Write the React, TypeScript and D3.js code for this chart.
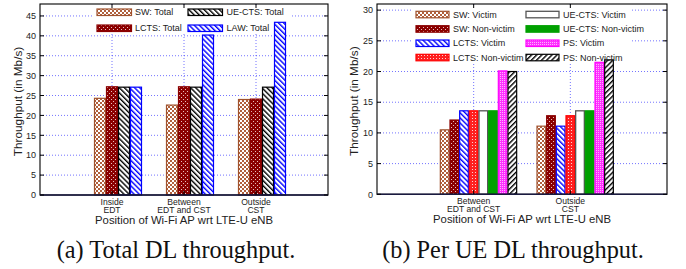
import React from "react";
import * as d3 from "d3";

// ---------- data ----------
const leftCategories = [["Inside", "EDT"], ["Between", "EDT and CST"], ["Outside", "CST"]];
const leftSeriesNames = ["SW: Total", "LCTS: Total", "UE-CTS: Total", "LAW: Total"];
const swTotal = [24.3, 22.6, 24.0];
const lctsTotal = [27.2, 27.2, 24.1];
const uectsTotal = [27.1, 27.1, 27.1];
const lawTotal = [27.1, 40.2, 43.4];
const leftYTicks = [0, 5, 10, 15, 20, 25, 30, 35, 40, 45];

const rightCategories = [["Between", "EDT and CST"], ["Outside", "CST"]];
const rightSeriesNames = [
  "SW: Victim", "SW: Non-victim", "LCTS: Victim", "LCTS: Non-victim",
  "UE-CTS: Victim", "UE-CTS: Non-victim", "PS: Victim", "PS: Non-victim",
];
const swVictim = [10.5, 11.1];
const swNonVictim = [12.1, 12.8];
const lctsVictim = [13.6, 11.1];
const lctsNonVictim = [13.6, 12.8];
const uectsVictim = [13.6, 13.6];
const uectsNonVictim = [13.6, 13.6];
const psVictim = [20.1, 21.5];
const psNonVictim = [20.0, 21.9];
const rightYTicks = [0, 5, 10, 15, 20, 25, 30];

const xTitle = "Position of Wi-Fi AP wrt LTE-U eNB";
const yTitle = "Throughput (in Mb/s)";

// ---------- styles ----------
type Style = { fill: string; stroke: string; sw?: number };
const leftStyles: Style[] = [
  { fill: "url(#pBrown)", stroke: "#a0522d" },
  { fill: "url(#pDarkRed)", stroke: "#8b0000" },
  { fill: "url(#pBlackBack)", stroke: "#000" },
  { fill: "url(#pBlueBack)", stroke: "#0000ff" },
];
const rightStyles: Style[] = [
  { fill: "url(#pBrown)", stroke: "#a0522d" },
  { fill: "url(#pDarkRed)", stroke: "#8b0000" },
  { fill: "url(#pBlueBack)", stroke: "#0000ff" },
  { fill: "url(#pRed)", stroke: "#ff0000" },
  { fill: "#fff", stroke: "#555", sw: 1.3 },
  { fill: "#00a000", stroke: "#00a000" },
  { fill: "url(#pMagenta)", stroke: "#ff00ff" },
  { fill: "url(#pBlackFwd)", stroke: "#000" },
];

const FONT = "'Liberation Sans', Arial, Helvetica, sans-serif";

type ChartProps = {
  left: number; right: number; top: number; bottom: number;
  yMax: number; yTicks: number[];
  xDomain: [number, number];
  categories: string[][];
  series: number[][];
  names: string[];
  styles: Style[];
  barW: number;
  legendCols: number[]; legendTextX: number[]; legendRows: number[]; legendBox: [number, number, number, number];
  swatchW: number;
  yTitleX: number;
  caption: string; captionX: number;
};

function Chart(p: ChartProps) {
  const x = d3.scaleLinear().domain(p.xDomain).range([p.left, p.right]);
  const y = d3.scaleLinear().domain([0, p.yMax]).range([p.bottom, p.top]);
  const n = p.series.length;
  const ticksX = p.categories.map((_, i) => i);
  const rowsPerCol = p.legendRows.length;
  const gridStyle = { stroke: "#3030ff", strokeWidth: 0.9, strokeDasharray: "1,2", opacity: 0.75 };
  return (
    <g>
      {/* grid */}
      {p.yTicks.filter((t) => t > 0).map((t) => (
        <line key={"gy" + t} x1={p.left} x2={p.right} y1={y(t)} y2={y(t)} style={gridStyle} />
      ))}
      {ticksX.map((t) => (
        <line key={"gx" + t} x1={x(t)} x2={x(t)} y1={p.top} y2={p.bottom} style={gridStyle} />
      ))}
      {/* legend box */}
      <rect x={p.legendBox[0]} y={p.legendBox[1]} width={p.legendBox[2]} height={p.legendBox[3]} fill="#fff" />
      {/* bars */}
      {p.series.map((vals, j) =>
        vals.map((v, i) => {
          const x0 = x(i + (j - (n - 1) / 2) * p.barW);
          const x1 = x(i + (j - (n - 1) / 2 + 1) * p.barW);
          const st = p.styles[j];
          return (
            <rect key={`b${j}-${i}`} x={x0 + 0.5} y={y(v)} width={x1 - x0 - 1} height={y(0) - y(v)}
              fill={st.fill} stroke={st.stroke} strokeWidth={st.sw ?? 1.2} />
          );
        })
      )}
      {/* legend */}
      {p.names.map((name, j) => {
        const col = Math.floor(j / rowsPerCol);
        const row = j % rowsPerCol;
        const sx = p.legendCols[col];
        const cy = p.legendRows[row];
        const st = p.styles[j];
        return (
          <g key={"lg" + j}>
            <rect x={sx} y={cy - 3} width={p.swatchW} height={6.5} fill={st.fill} stroke={st.stroke} strokeWidth={st.sw ?? 1.2} />
            <text x={p.legendTextX[col]} y={cy + 3.3} fontSize={9} fontFamily={FONT} fill="#222">{name}</text>
          </g>
        );
      })}
      {/* frame */}
      <rect x={p.left} y={p.top} width={p.right - p.left} height={p.bottom - p.top} fill="none" stroke="#000" strokeWidth={1.1} />
      <line x1={p.left} x2={p.right} y1={p.bottom} y2={p.bottom} stroke="#1a1a40" strokeWidth={1.6} />
      {/* y ticks */}
      {p.yTicks.map((t) => (
        <g key={"yt" + t}>
          <line x1={p.left} x2={p.left + 4} y1={y(t)} y2={y(t)} stroke="#000" />
          <line x1={p.right} x2={p.right - 4} y1={y(t)} y2={y(t)} stroke="#000" />
          <text x={p.left - 4} y={y(t) + 3.2} textAnchor="end" fontSize={9} fontFamily={FONT} fill="#222">{t}</text>
        </g>
      ))}
      {/* x ticks */}
      {ticksX.map((t) => (
        <g key={"xt" + t}>
          <line x1={x(t)} x2={x(t)} y1={p.bottom} y2={p.bottom - 4} stroke="#000" />
          <line x1={x(t)} x2={x(t)} y1={p.top} y2={p.top + 4} stroke="#000" />
          {p.categories[t].map((ln, k) => (
            <text key={k} x={x(t)} y={p.bottom + 10 + k * 7.8} textAnchor="middle" fontSize={8.6} fontFamily={FONT} fill="#222">{ln}</text>
          ))}
        </g>
      ))}
      <text x={(p.left + p.right) / 2} y={p.bottom + 28.5} textAnchor="middle" fontSize={11.3} fontFamily={FONT} fill="#222">{xTitle}</text>
      <text transform={`translate(${p.yTitleX},${(p.top + p.bottom) / 2 + 2}) rotate(-90)`} textAnchor="middle" dy="0.35em" fontSize={11.8} fontFamily={FONT} fill="#222">{yTitle}</text>
      <text x={p.captionX} y={257.5} textAnchor="middle" fontSize={24.3} fontFamily="'Liberation Serif', 'Times New Roman', serif" fill="#111">{p.caption}</text>
    </g>
  );
}

export default function App() {
  return (
    <svg width={686} height={269} style={{ position: "absolute", left: 0, top: 0, background: "#fff" }}>
      <defs>
        <pattern id="pBrown" width={4} height={4} patternUnits="userSpaceOnUse">
          <rect width={4} height={4} fill="#b0603c" />
          <rect x={0} y={0} width={2} height={2} fill="#fff" />
          <rect x={2} y={2} width={2} height={2} fill="#fff" />
        </pattern>
        <pattern id="pDarkRed" width={4} height={4} patternUnits="userSpaceOnUse">
          <rect width={4} height={4} fill="#8b0000" />
          <rect x={1} y={1} width={1} height={1} fill="#e8c0c0" />
          <rect x={3} y={3} width={1} height={1} fill="#e8c0c0" />
        </pattern>
        <pattern id="pRed" width={3} height={3} patternUnits="userSpaceOnUse">
          <rect width={3} height={3} fill="#ff2020" />
          <rect x={1} y={1} width={1} height={1} fill="#ffd0d0" />
        </pattern>
        <pattern id="pMagenta" width={2} height={2} patternUnits="userSpaceOnUse">
          <rect width={2} height={2} fill="#ff30ff" />
          <rect x={0} y={0} width={1} height={1} fill="#ffb0ff" />
        </pattern>
        <pattern id="pBlackBack" width={3.6} height={3.6} patternUnits="userSpaceOnUse" patternTransform="rotate(-45)">
          <rect width={3.6} height={3.6} fill="#fff" />
          <rect x={0} y={0} width={1.4} height={3.6} fill="#000" />
        </pattern>
        <pattern id="pBlueBack" width={3.6} height={3.6} patternUnits="userSpaceOnUse" patternTransform="rotate(-45)">
          <rect width={3.6} height={3.6} fill="#fff" />
          <rect x={0} y={0} width={1.4} height={3.6} fill="#0000ff" />
        </pattern>
        <pattern id="pBlackFwd" width={3.6} height={3.6} patternUnits="userSpaceOnUse" patternTransform="rotate(45)">
          <rect width={3.6} height={3.6} fill="#fff" />
          <rect x={0} y={0} width={1.4} height={3.6} fill="#000" />
        </pattern>
      </defs>
      <Chart
        left={40} right={328} top={4} bottom={195}
        yMax={48} yTicks={leftYTicks} xDomain={[-1, 3]}
        categories={leftCategories}
        series={[swTotal, lctsTotal, uectsTotal, lawTotal]}
        names={leftSeriesNames} styles={leftStyles} barW={1 / 6}
        legendCols={[97, 188]} legendTextX={[135, 226.5]} legendRows={[12, 28]} legendBox={[94, 6, 196, 28]} swatchW={34.5}
        yTitleX={17.5} caption="(a) Total DL throughput." captionX={176}
      />
      <Chart
        left={377} right={667} top={4} bottom={194.3}
        yMax={31} yTicks={rightYTicks} xDomain={[-1, 2]}
        categories={rightCategories}
        series={[swVictim, swNonVictim, lctsVictim, lctsNonVictim, uectsVictim, uectsNonVictim, psVictim, psNonVictim]}
        names={rightSeriesNames} styles={rightStyles} barW={0.1}
        legendCols={[416, 526]} legendTextX={[453, 563]} legendRows={[14.3, 28.7, 43, 57.3]} legendBox={[412, 6, 218, 58]} swatchW={33}
        yTitleX={354} caption="(b) Per UE DL throughput." captionX={513}
      />
    </svg>
  );
}
